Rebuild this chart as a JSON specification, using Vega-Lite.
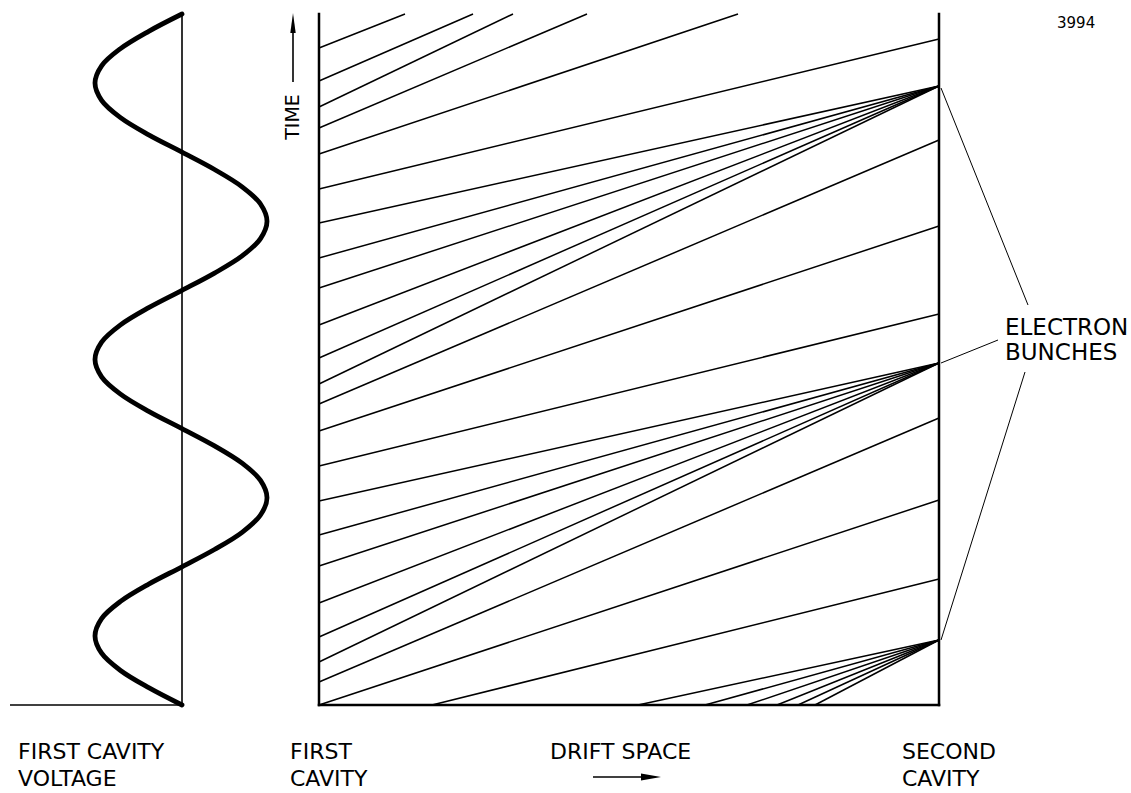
{
  "$schema": "https://vega.github.io/schema/vega-lite/v6.json",
  "width": 1131,
  "height": 793,
  "autosize": {"type": "fit", "contains": "padding"},
  "padding": 0,
  "background": "white",
  "config": {"view": {"stroke": null}},
  "datasets": {
    "trajectories": [
      {"id": "t1", "x": 319, "y": 48}, {"id": "t1", "x": 405, "y": 14},
      {"id": "t2", "x": 319, "y": 81}, {"id": "t2", "x": 473, "y": 14},
      {"id": "t3", "x": 319, "y": 107}, {"id": "t3", "x": 513, "y": 14},
      {"id": "t4", "x": 319, "y": 128}, {"id": "t4", "x": 587, "y": 14},
      {"id": "t5", "x": 319, "y": 154}, {"id": "t5", "x": 738, "y": 14},
      {"id": "t6", "x": 319, "y": 189}, {"id": "t6", "x": 939, "y": 39},
      {"id": "t7", "x": 319, "y": 223}, {"id": "t7", "x": 939, "y": 86},
      {"id": "t8", "x": 319, "y": 258}, {"id": "t8", "x": 939, "y": 86},
      {"id": "t9", "x": 319, "y": 288}, {"id": "t9", "x": 939, "y": 86},
      {"id": "t10", "x": 319, "y": 325}, {"id": "t10", "x": 939, "y": 86},
      {"id": "t11", "x": 319, "y": 358}, {"id": "t11", "x": 939, "y": 86},
      {"id": "t12", "x": 319, "y": 384}, {"id": "t12", "x": 939, "y": 86},
      {"id": "t13", "x": 319, "y": 404}, {"id": "t13", "x": 939, "y": 140},
      {"id": "t14", "x": 319, "y": 431}, {"id": "t14", "x": 939, "y": 226},
      {"id": "t15", "x": 319, "y": 466}, {"id": "t15", "x": 939, "y": 314},
      {"id": "t16", "x": 319, "y": 501}, {"id": "t16", "x": 939, "y": 363},
      {"id": "t17", "x": 319, "y": 535}, {"id": "t17", "x": 939, "y": 363},
      {"id": "t18", "x": 319, "y": 566}, {"id": "t18", "x": 939, "y": 363},
      {"id": "t19", "x": 319, "y": 603}, {"id": "t19", "x": 939, "y": 363},
      {"id": "t20", "x": 319, "y": 637}, {"id": "t20", "x": 939, "y": 363},
      {"id": "t21", "x": 319, "y": 662}, {"id": "t21", "x": 939, "y": 363},
      {"id": "t22", "x": 319, "y": 682}, {"id": "t22", "x": 939, "y": 418},
      {"id": "t23", "x": 319, "y": 705}, {"id": "t23", "x": 939, "y": 500},
      {"id": "t24", "x": 432, "y": 705}, {"id": "t24", "x": 939, "y": 579},
      {"id": "t25", "x": 638, "y": 705}, {"id": "t25", "x": 939, "y": 640},
      {"id": "t26", "x": 705, "y": 705}, {"id": "t26", "x": 939, "y": 640},
      {"id": "t27", "x": 747, "y": 705}, {"id": "t27", "x": 939, "y": 640},
      {"id": "t28", "x": 777, "y": 705}, {"id": "t28", "x": 939, "y": 640},
      {"id": "t29", "x": 798, "y": 705}, {"id": "t29", "x": 939, "y": 640},
      {"id": "t30", "x": 815, "y": 705}, {"id": "t30", "x": 939, "y": 640}
    ],
    "frame": [
      {"id": "first", "x": 319, "y": 14}, {"id": "first", "x": 319, "y": 705},
      {"id": "second", "x": 939, "y": 14}, {"id": "second", "x": 939, "y": 705},
      {"id": "bottom", "x": 319, "y": 705}, {"id": "bottom", "x": 939, "y": 705}
    ],
    "thin": [
      {"id": "axis", "x": 182, "y": 14}, {"id": "axis", "x": 182, "y": 705},
      {"id": "base", "x": 10, "y": 705}, {"id": "base", "x": 182, "y": 705},
      {"id": "timearrow", "x": 293, "y": 30}, {"id": "timearrow", "x": 293, "y": 82},
      {"id": "driftarrow", "x": 593, "y": 777}, {"id": "driftarrow", "x": 645, "y": 777}
    ],
    "leaders": [
      {"id": "b1", "x": 941, "y": 88}, {"id": "b1", "x": 1028, "y": 305},
      {"id": "b2", "x": 941, "y": 363}, {"id": "b2", "x": 998, "y": 340},
      {"id": "b3", "x": 941, "y": 640}, {"id": "b3", "x": 1025, "y": 372}
    ],
    "wave": [
      {"k": 0, "x": 182, "y": 14.0}, {"k": 1, "x": 148.7, "y": 31.3}, {"k": 2, "x": 120.5, "y": 48.6},
      {"k": 3, "x": 101.6, "y": 65.8}, {"k": 4, "x": 95, "y": 83.1}, {"k": 5, "x": 101.6, "y": 100.4},
      {"k": 6, "x": 120.5, "y": 117.7}, {"k": 7, "x": 148.7, "y": 134.9}, {"k": 8, "x": 182, "y": 152.2},
      {"k": 9, "x": 214.5, "y": 169.5}, {"k": 10, "x": 242.1, "y": 186.8}, {"k": 11, "x": 260.5, "y": 204.0},
      {"k": 12, "x": 267, "y": 221.3}, {"k": 13, "x": 260.5, "y": 238.6}, {"k": 14, "x": 242.1, "y": 255.9},
      {"k": 15, "x": 214.5, "y": 273.1}, {"k": 16, "x": 182, "y": 290.4}, {"k": 17, "x": 148.7, "y": 307.7},
      {"k": 18, "x": 120.5, "y": 324.9}, {"k": 19, "x": 101.6, "y": 342.2}, {"k": 20, "x": 95, "y": 359.5},
      {"k": 21, "x": 101.6, "y": 376.8}, {"k": 22, "x": 120.5, "y": 394.1}, {"k": 23, "x": 148.7, "y": 411.3},
      {"k": 24, "x": 182, "y": 428.6}, {"k": 25, "x": 214.5, "y": 445.9}, {"k": 26, "x": 242.1, "y": 463.2},
      {"k": 27, "x": 260.5, "y": 480.4}, {"k": 28, "x": 267, "y": 497.7}, {"k": 29, "x": 260.5, "y": 515.0},
      {"k": 30, "x": 242.1, "y": 532.3}, {"k": 31, "x": 214.5, "y": 549.5}, {"k": 32, "x": 182, "y": 566.8},
      {"k": 33, "x": 148.7, "y": 584.1}, {"k": 34, "x": 120.5, "y": 601.4}, {"k": 35, "x": 101.6, "y": 618.6},
      {"k": 36, "x": 95, "y": 635.9}, {"k": 37, "x": 101.6, "y": 653.2}, {"k": 38, "x": 120.5, "y": 670.5},
      {"k": 39, "x": 148.7, "y": 687.7}, {"k": 40, "x": 182, "y": 705.0}
    ],
    "labels": [
      {"text": "FIRST CAVITY", "x": 18, "y": 759},
      {"text": "VOLTAGE", "x": 18, "y": 786},
      {"text": "FIRST", "x": 290, "y": 759},
      {"text": "CAVITY", "x": 290, "y": 786},
      {"text": "DRIFT SPACE", "x": 550, "y": 759},
      {"text": "SECOND", "x": 902, "y": 759},
      {"text": "CAVITY", "x": 902, "y": 786}
    ],
    "callout": [
      {"text": "ELECTRON", "x": 1005, "y": 335},
      {"text": "BUNCHES", "x": 1005, "y": 360}
    ],
    "figno": [{"text": "3994", "x": 1057, "y": 28}],
    "timelabel": [{"text": "TIME", "x": 293, "y": 117}],
    "heads_up": [{"x": 293, "y": 23}],
    "heads_right": [{"x": 651, "y": 777}]
  },
  "encoding": {
    "x": {"field": "x", "type": "quantitative", "scale": {"domain": [0, 1131], "nice": false, "zero": false}, "axis": null},
    "y": {"field": "y", "type": "quantitative", "scale": {"domain": [0, 793], "reverse": true, "nice": false, "zero": false}, "axis": null}
  },
  "layer": [
    {
      "data": {"name": "trajectories"},
      "mark": {"type": "line", "color": "black", "strokeWidth": 1.5},
      "encoding": {"detail": {"field": "id"}}
    },
    {
      "data": {"name": "frame"},
      "mark": {"type": "line", "color": "black", "strokeWidth": 2.5, "strokeCap": "square"},
      "encoding": {"detail": {"field": "id"}}
    },
    {
      "data": {"name": "thin"},
      "mark": {"type": "line", "color": "black", "strokeWidth": 1.6},
      "encoding": {"detail": {"field": "id"}}
    },
    {
      "data": {"name": "leaders"},
      "mark": {"type": "line", "color": "black", "strokeWidth": 1},
      "encoding": {"detail": {"field": "id"}}
    },
    {
      "data": {"name": "wave"},
      "mark": {"type": "line", "color": "black", "strokeWidth": 4.8, "interpolate": "catmull-rom", "strokeCap": "round", "strokeJoin": "round"},
      "encoding": {"order": {"field": "k", "type": "quantitative"}}
    },
    {
      "data": {"name": "heads_up"},
      "mark": {"type": "point", "filled": true, "color": "black", "opacity": 1, "size": 400, "shape": "M0,-1L0.27,1L-0.27,1Z"}
    },
    {
      "data": {"name": "heads_right"},
      "mark": {"type": "point", "filled": true, "color": "black", "opacity": 1, "size": 400, "shape": "M1,0L-1,-0.35L-1,0.35Z"}
    },
    {
      "data": {"name": "labels"},
      "mark": {"type": "text", "font": "DejaVu Sans", "fontSize": 22, "align": "left", "baseline": "alphabetic", "color": "black"},
      "encoding": {"text": {"field": "text"}}
    },
    {
      "data": {"name": "callout"},
      "mark": {"type": "text", "font": "DejaVu Sans", "fontSize": 23, "align": "left", "baseline": "alphabetic", "color": "black"},
      "encoding": {"text": {"field": "text"}}
    },
    {
      "data": {"name": "figno"},
      "mark": {"type": "text", "font": "DejaVu Sans", "fontSize": 15, "align": "left", "baseline": "alphabetic", "color": "black"},
      "encoding": {"text": {"field": "text"}}
    },
    {
      "data": {"name": "timelabel"},
      "mark": {"type": "text", "font": "DejaVu Sans", "fontSize": 19, "align": "center", "baseline": "middle", "angle": 270, "color": "black"},
      "encoding": {"text": {"field": "text"}}
    }
  ]
}
